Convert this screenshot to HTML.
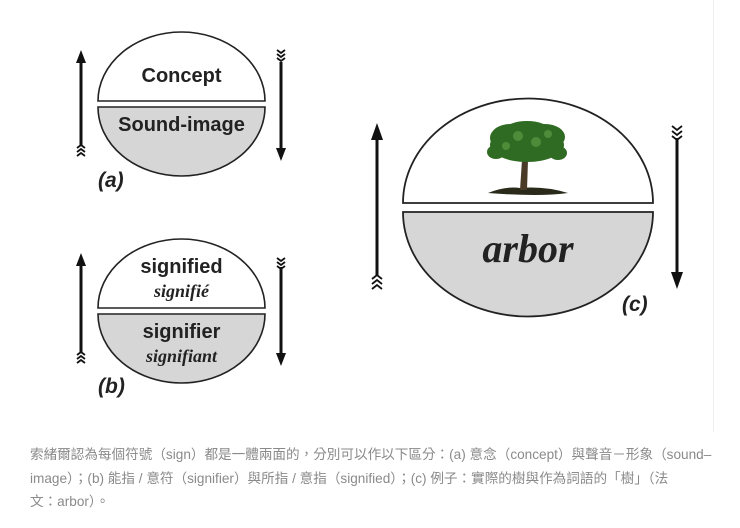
<!DOCTYPE html>
<html><head><meta charset="utf-8"><style>
body{margin:0;background:#fff;width:740px;height:528px;overflow:hidden;position:relative}
svg{position:absolute;left:0;top:0}
.cap{position:absolute;left:30px;top:443px;width:700px;font:13.6px/23.5px "Liberation Sans","Noto Sans CJK TC",sans-serif;color:#8a8a8a;white-space:nowrap}
</style></head><body>
<svg width="740" height="528" viewBox="0 0 740 528">
<line x1="713.5" y1="0" x2="713.5" y2="432" stroke="#eee" stroke-width="1"/>
<!-- (a) -->
<path d="M98 101 A83.5 69 0 0 1 265 101 Z" fill="#fff" stroke="#222" stroke-width="1.6"/>
<path d="M98 107 A83.5 69 0 0 0 265 107 Z" fill="#d6d6d6" stroke="#222" stroke-width="1.6"/>
<text x="181.5" y="82" text-anchor="middle" font-family="Liberation Sans" font-weight="bold" font-size="20" fill="#222">Concept</text>
<text x="181.5" y="131" text-anchor="middle" font-family="Liberation Sans" font-weight="bold" font-size="20" fill="#222">Sound-image</text>
<text x="98" y="187" font-family="Liberation Sans" font-weight="bold" font-style="italic" font-size="21" fill="#222">(a)</text>
<!-- (b) -->
<path d="M98 308 A83.5 69 0 0 1 265 308 Z" fill="#fff" stroke="#222" stroke-width="1.6"/>
<path d="M98 314 A83.5 69 0 0 0 265 314 Z" fill="#d6d6d6" stroke="#222" stroke-width="1.6"/>
<text x="181.5" y="273" text-anchor="middle" font-family="Liberation Sans" font-weight="bold" font-size="20" fill="#222">signified</text>
<text x="181.5" y="297" text-anchor="middle" font-family="Liberation Serif" font-weight="bold" font-style="italic" font-size="18" fill="#222">signifié</text>
<text x="181.5" y="338" text-anchor="middle" font-family="Liberation Sans" font-weight="bold" font-size="20" fill="#222">signifier</text>
<text x="181.5" y="362" text-anchor="middle" font-family="Liberation Serif" font-weight="bold" font-style="italic" font-size="18" fill="#222">signifiant</text>
<text x="98" y="393" font-family="Liberation Sans" font-weight="bold" font-style="italic" font-size="21" fill="#222">(b)</text>
<!-- (c) -->
<path d="M403 203 A125 104.5 0 0 1 653 203 Z" fill="#fff" stroke="#222" stroke-width="1.8"/>
<path d="M403 212 A125 104.5 0 0 0 653 212 Z" fill="#d6d6d6" stroke="#222" stroke-width="1.8"/>
<text x="528" y="262" text-anchor="middle" font-family="Liberation Serif" font-weight="bold" font-style="italic" font-size="40" fill="#222">arbor</text>
<text x="622" y="311" font-family="Liberation Sans" font-weight="bold" font-style="italic" font-size="21" fill="#222">(c)</text>
<!-- tree -->
<path d="M488 193 Q505 186 520 188 Q545 186 568 193 Q540 197 488 193Z" fill="#2a2a1a"/>
<path d="M520 190 L522 160 L517 150 L523 153 L527 148 L528 160 L527 190Z" fill="#4a3a28"/>
<g fill="#2f6b22">
<ellipse cx="527" cy="145" rx="37" ry="17"/>
<ellipse cx="510" cy="138" rx="20" ry="14"/>
<ellipse cx="545" cy="137" rx="20" ry="13"/>
<ellipse cx="527" cy="130" rx="22" ry="9"/>
<ellipse cx="496" cy="152" rx="9" ry="7"/>
<ellipse cx="558" cy="153" rx="9" ry="7"/>
</g>
<g fill="#5c9a45" opacity="0.7">
<circle cx="518" cy="136" r="5"/><circle cx="536" cy="142" r="5"/><circle cx="506" cy="146" r="4"/><circle cx="548" cy="134" r="4"/>
</g>
<!-- arrows -->
<g stroke="#111" stroke-width="3" fill="none">
<line x1="81" y1="62" x2="81" y2="146"/>
<line x1="281" y1="62" x2="281" y2="150"/>
<line x1="81" y1="265" x2="81" y2="352"/>
<line x1="281" y1="267" x2="281" y2="355"/>
<line x1="377" y1="138" x2="377" y2="275"/>
<line x1="677" y1="138" x2="677" y2="275"/>
</g>
<g fill="#111">
<path d="M76 63 L81 50 L86 63Z"/>
<path d="M276 148 L281 161 L286 148Z"/>
<path d="M76 266 L81 253 L86 266Z"/>
<path d="M276 353 L281 366 L286 353Z"/>
<path d="M371 140 L377 123 L383 140Z"/>
<path d="M671 272 L677 289 L683 272Z"/>
</g>
<g stroke="#111" stroke-width="1.8" fill="none">
<path d="M77 148 l4 -3 l4 3 M77 152 l4 -3 l4 3 M77 156 l4 -3 l4 3"/>
<path d="M277 50 l4 3 l4 -3 M277 54 l4 3 l4 -3 M277 58 l4 3 l4 -3"/>
<path d="M77 355 l4 -3 l4 3 M77 359 l4 -3 l4 3 M77 363 l4 -3 l4 3"/>
<path d="M277 258 l4 3 l4 -3 M277 262 l4 3 l4 -3 M277 266 l4 3 l4 -3"/>
<path d="M372 279 l5 -4 l5 4 M372 284 l5 -4 l5 4 M372 289 l5 -4 l5 4"/>
<path d="M672 126 l5 4 l5 -4 M672 131 l5 4 l5 -4 M672 136 l5 4 l5 -4"/>
</g>
</svg>
<div class="cap">索緒爾認為每個符號（sign）都是一體兩面的，分別可以作以下區分：(a) 意念（concept）與聲音－形象（sound–<br>image）；(b) 能指 / 意符（signifier）與所指 / 意指（signified）；(c) 例子：實際的樹與作為詞語的「樹」（法<br>文：arbor）。</div>
</body></html>
